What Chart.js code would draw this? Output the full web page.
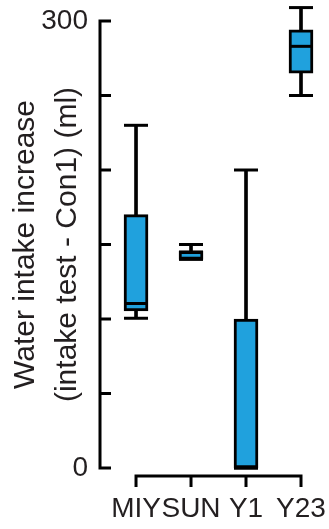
<!DOCTYPE html>
<html>
<head>
<meta charset="utf-8">
<script src="https://cdn.jsdelivr.net/npm/chart.js@4.4.1/dist/chart.umd.min.js"></script>
<style>
  html, body { margin: 0; padding: 0; background: #ffffff; }
  #wrap { width: 329px; height: 529px; }
</style>
</head>
<body>
<div id="wrap"><canvas id="chart" width="329" height="529"></canvas></div>
<script>
// Groups and five-number summaries (ml)
const groups = ['MIY', 'SUN', 'Y1', 'Y23'];
const whiskerLow  = [100.5, 140, 0, 250];
const quartile1   = [105.4, 140, 0, 265];
const medians     = [110.4, 145, 0, 283];
const quartile3   = [170, 145.5, 100, 294];
const whiskerHigh = [230, 150, 200, 309];

// y-axis ticks and which of them carry a label
const yTicks = [0, 50, 100, 150, 200, 250, 300];
const yLabelled = [0, 300];

const INK = '#000000';
const TEXT = '#231f20';
const BOX_FILL = '#20a1dd';
const FONT = '"Liberation Sans", Arial, sans-serif';

// Detached axes: vertical axis with inward ticks, horizontal axis
// spanning only the groups with downward ticks
const detachedAxes = {
  id: 'detachedAxes',
  afterDatasetsDraw(chart) {
    const { ctx, scales: { x, y } } = chart;
    const ax = chart.chartArea.left;
    const yTop = y.getPixelForValue(yTicks[yTicks.length - 1]);
    const yBot = y.getPixelForValue(yTicks[0]);
    const tickIn = 11;
    ctx.save();
    ctx.strokeStyle = INK;
    ctx.lineWidth = 3;
    ctx.lineJoin = 'miter';
    ctx.lineCap = 'butt';

    ctx.beginPath();
    ctx.moveTo(ax + tickIn, yTop);
    ctx.lineTo(ax, yTop);
    ctx.lineTo(ax, yBot);
    ctx.lineTo(ax + tickIn, yBot);
    ctx.stroke();
    ctx.beginPath();
    yTicks.slice(1, -1).forEach(v => {
      const py = y.getPixelForValue(v);
      ctx.moveTo(ax, py);
      ctx.lineTo(ax + tickIn, py);
    });
    ctx.stroke();

    const xAxisY = yBot + 8;
    const tickDown = 11;
    const x0 = x.getPixelForValue(0);
    const xN = x.getPixelForValue(groups.length - 1);
    ctx.beginPath();
    ctx.moveTo(x0, xAxisY + tickDown);
    ctx.lineTo(x0, xAxisY);
    ctx.lineTo(xN, xAxisY);
    ctx.lineTo(xN, xAxisY + tickDown);
    ctx.stroke();
    ctx.beginPath();
    for (let i = 1; i < groups.length - 1; i++) {
      const px = x.getPixelForValue(i);
      ctx.moveTo(px, xAxisY);
      ctx.lineTo(px, xAxisY + tickDown);
    }
    ctx.stroke();
    ctx.restore();
  }
};

const pointsAt = arr => groups.map((g, i) => ({ x: i, y: arr[i] }));
const rangesAt = (lo, hi) => groups.map((g, i) => ({ x: i, y: [lo[i], hi[i]] }));

const hLine = {
  type: 'line',
  showLine: false,
  pointStyle: 'line',
  pointRadius: 12,
  pointHoverRadius: 12,
  pointBorderWidth: 3,
  pointBorderColor: INK,
  borderColor: INK,
  clip: false
};

new Chart(document.getElementById('chart'), {
  type: 'bar',
  data: {
    datasets: [
      {
        label: 'whiskers',
        data: rangesAt(whiskerLow, whiskerHigh),
        backgroundColor: INK,
        barThickness: 3,
        grouped: false,
        clip: false,
        order: 4
      },
      {
        label: 'boxes',
        data: rangesAt(quartile1, quartile3),
        backgroundColor: BOX_FILL,
        borderColor: INK,
        borderWidth: 3,
        borderSkipped: false,
        barThickness: 24,
        grouped: false,
        clip: false,
        order: 3
      },
      Object.assign({ label: 'upper caps', data: pointsAt(whiskerHigh), order: 2 }, hLine),
      Object.assign({ label: 'lower caps', data: pointsAt(whiskerLow), order: 1 }, hLine),
      Object.assign({ label: 'medians', data: pointsAt(medians), order: 0 }, hLine)
    ]
  },
  options: {
    responsive: false,
    animation: false,
    devicePixelRatio: 1,
    layout: { padding: { top: 21, right: 17, left: 0, bottom: 0 } },
    plugins: {
      legend: { display: false },
      tooltip: { enabled: false }
    },
    scales: {
      x: {
        type: 'linear',
        min: -0.655,
        max: 3.2,
        offset: false,
        grid: { display: false, drawTicks: false, offset: false },
        border: { display: false },
        afterBuildTicks: s => { s.ticks = groups.map((g, i) => ({ value: i })); },
        afterFit: s => { s.height = 61; s.paddingLeft = 0; s.paddingRight = 0; },
        ticks: {
          autoSkip: false,
          maxRotation: 0,
          minRotation: 0,
          padding: 24,
          color: TEXT,
          font: { family: FONT, size: 28 },
          callback: v => groups[v] ?? ''
        }
      },
      y: {
        type: 'linear',
        min: 0,
        max: 300,
        grid: { display: false, drawTicks: false },
        border: { display: false },
        afterBuildTicks: s => { s.ticks = yTicks.map(v => ({ value: v })); },
        afterFit: s => { s.width = 100; s.paddingTop = 0; s.paddingBottom = 0; },
        ticks: {
          padding: 12,
          color: TEXT,
          font: { family: FONT, size: 28 },
          callback: v => (yLabelled.includes(v) ? String(v) : '')
        },
        title: {
          display: true,
          text: ['Water intake increase', '(intake test - Con1) (ml)'],
          color: TEXT,
          padding: { top: 5, bottom: 0 },
          font: { family: FONT, size: 30, lineHeight: 1.4 }
        }
      }
    }
  },
  plugins: [detachedAxes]
});
</script>
</body>
</html>
